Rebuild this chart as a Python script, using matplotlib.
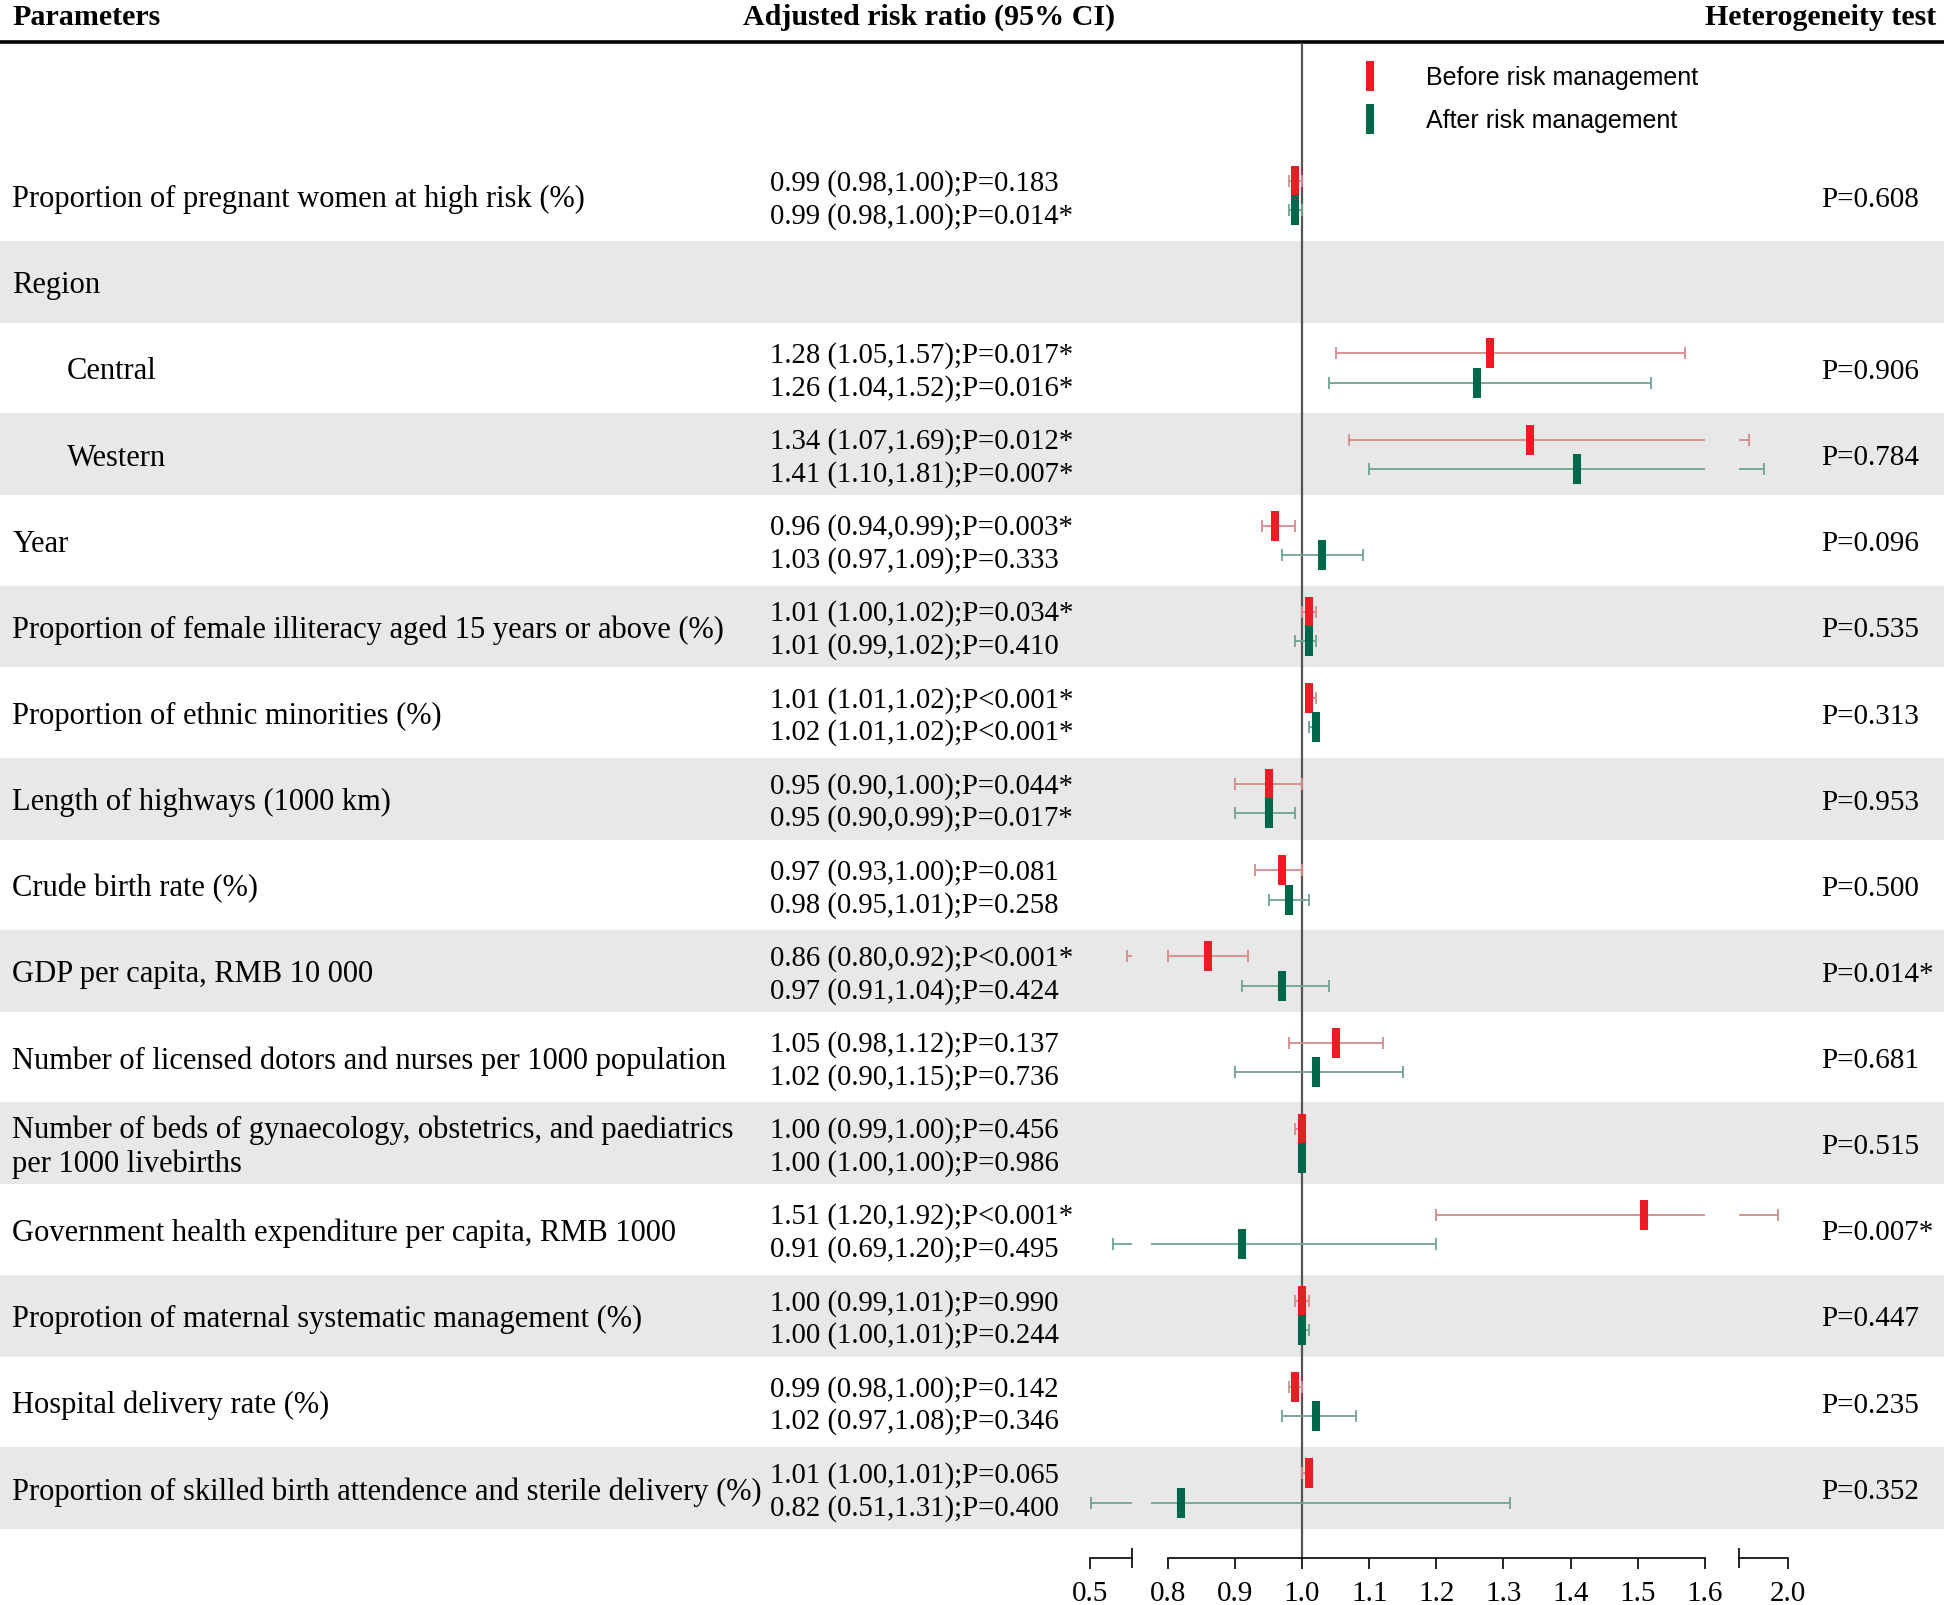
import matplotlib.pyplot as plt
import numpy as np
from matplotlib.lines import Line2D

# layout grid in reference pixels (figure is 1944x1605, grid 1568x1295)
W, H = 1568.0, 1295.0
Y0, STEP = 158.0, 69.5
AX_TOP, AX_BOT = 35.0, 1257.0
DY = 0.045  # small downward nudge for text baselines

def fy(px):
    return 1 - px / H

def row_of(px):
    return (px - Y0) / STEP

labels = ['Proportion of pregnant women at high risk (%)',
          'Region',
          'Central',
          'Western',
          'Year',
          'Proportion of female illiteracy aged 15 years or above (%)',
          'Proportion of ethnic minorities (%)',
          'Length of highways (1000 km)',
          'Crude birth rate (%)',
          'GDP per capita, RMB 10 000',
          'Number of licensed dotors and nurses per 1000 population',
          'Number of beds of gynaecology, obstetrics, and paediatrics\nper 1000 livebirths',
          'Government health expenditure per capita, RMB 1000',
          'Proprotion of maternal systematic management (%)',
          'Hospital delivery rate (%)',
          'Proportion of skilled birth attendence and sterile delivery (%)']
indented = [False, False, True, True] + [False] * 12

before_rr = [0.99, np.nan, 1.28, 1.34, 0.96, 1.01, 1.01, 0.95, 0.97, 0.86, 1.05, 1.00, 1.51, 1.00, 0.99, 1.01]
before_lo = [0.98, np.nan, 1.05, 1.07, 0.94, 1.00, 1.01, 0.90, 0.93, 0.80, 0.98, 0.99, 1.20, 0.99, 0.98, 1.00]
before_hi = [1.00, np.nan, 1.57, 1.69, 0.99, 1.02, 1.02, 1.00, 1.00, 0.92, 1.12, 1.00, 1.92, 1.01, 1.00, 1.01]
before_p = ['P=0.183', '', 'P=0.017*', 'P=0.012*', 'P=0.003*', 'P=0.034*', 'P<0.001*', 'P=0.044*',
            'P=0.081', 'P<0.001*', 'P=0.137', 'P=0.456', 'P<0.001*', 'P=0.990', 'P=0.142', 'P=0.065']

after_rr = [0.99, np.nan, 1.26, 1.41, 1.03, 1.01, 1.02, 0.95, 0.98, 0.97, 1.02, 1.00, 0.91, 1.00, 1.02, 0.82]
after_lo = [0.98, np.nan, 1.04, 1.10, 0.97, 0.99, 1.01, 0.90, 0.95, 0.91, 0.90, 1.00, 0.69, 1.00, 0.97, 0.51]
after_hi = [1.00, np.nan, 1.52, 1.81, 1.09, 1.02, 1.02, 0.99, 1.01, 1.04, 1.15, 1.00, 1.20, 1.01, 1.08, 1.31]
after_p = ['P=0.014*', '', 'P=0.016*', 'P=0.007*', 'P=0.333', 'P=0.410', 'P<0.001*', 'P=0.017*',
           'P=0.258', 'P=0.424', 'P=0.736', 'P=0.986', 'P=0.495', 'P=0.244', 'P=0.346', 'P=0.400']

het_p = ['P=0.608', '', 'P=0.906', 'P=0.784', 'P=0.096', 'P=0.535', 'P=0.313', 'P=0.953',
         'P=0.500', 'P=0.014*', 'P=0.681', 'P=0.515', 'P=0.007*', 'P=0.447', 'P=0.235', 'P=0.352']

RED, GREEN = '#EC1C24', '#00684A'
RED_CI, GREEN_CI = '#D68A8A', '#6FA590'
SERIF = 'Liberation Serif'
FS = 21

fig = plt.figure(figsize=(19.44, 16.05), dpi=100)

# background: bands, header and text columns
bg = fig.add_axes([0, 0, 1, 1], zorder=0)
bg.set_xlim(0, W)
bg.set_ylim(row_of(H), row_of(0))
bg.axis('off')

n = len(labels)
y = np.arange(n)
for k in range(1, n, 2):
    bg.axhspan(k - 0.475, k + 0.475, color='#E8E8E8', lw=0)
bg.axhline(row_of(34), color='black', lw=2.6)

hdr = dict(family=SERIF, fontsize=21.6, fontweight='bold', va='center')
bg.text(10, row_of(14), 'Parameters', **hdr)
bg.text(749, row_of(14), 'Adjusted risk ratio (95% CI)', ha='center', **hdr)
bg.text(1562, row_of(14), 'Heterogeneity test', ha='right', **hdr)

for i in range(n):
    x_lab = 54 if indented[i] else 10
    bg.text(x_lab, i + DY, labels[i], family=SERIF, fontsize=22, va='center', linespacing=1.2)
    if np.isnan(before_rr[i]):
        continue
    t1 = '%.2f (%.2f,%.2f);%s' % (before_rr[i], before_lo[i], before_hi[i], before_p[i])
    t2 = '%.2f (%.2f,%.2f);%s' % (after_rr[i], after_lo[i], after_hi[i], after_p[i])
    bg.text(621, i - 0.19 + DY, t1, family=SERIF, fontsize=FS - 0.3, va='center')
    bg.text(621, i + 0.19 + DY, t2, family=SERIF, fontsize=FS - 0.3, va='center')
    bg.text(1469, i + DY, het_p[i], family=SERIF, fontsize=FS, va='center')

# broken x axis: three panels with their own scales
panels = [(879, 913, (0.5, 0.84), [0.5], [0.84]),
          (928.5, 1375, (0.775, 1.6), [0.8, 0.9, 1.0, 1.1, 1.2, 1.3, 1.4, 1.5, 1.6], [0.8, 1.6]),
          (1403, 1442, (1.61, 2.0), [2.0], [1.61])]

b_rr, b_lo, b_hi = np.array(before_rr), np.array(before_lo), np.array(before_hi)
a_rr, a_lo, a_hi = np.array(after_rr), np.array(after_lo), np.array(after_hi)
ok = ~np.isnan(b_rr)
yb, ya = y[ok] - 0.17, y[ok] + 0.17

axes = []
for x0, x1, lim, major, ends in panels:
    ax = fig.add_axes([x0 / W, fy(AX_BOT), (x1 - x0) / W, (AX_BOT - AX_TOP) / H], zorder=2)
    ax.patch.set_visible(False)
    ax.set_xlim(*lim)
    ax.set_ylim(row_of(AX_BOT), row_of(AX_TOP))
    for s in ['top', 'left', 'right']:
        ax.spines[s].set_visible(False)
    ax.spines['bottom'].set_linewidth(1.2)
    ax.spines['bottom'].set_bounds(max(lim[0], major[0] if len(major) > 1 else lim[0]), lim[1])
    ax.set_yticks([])
    ax.set_xticks(major)
    ax.set_xticklabels(['%.1f' % v for v in major], family=SERIF, fontsize=FS)
    ax.set_xticks(ends, minor=True)
    ax.tick_params(axis='x', which='major', direction='out', length=8, width=1.2, pad=8.5)
    ax.tick_params(axis='x', which='minor', direction='inout', length=15, width=1.2)

    ax.errorbar(b_rr[ok], yb, xerr=[b_rr[ok] - b_lo[ok], b_hi[ok] - b_rr[ok]], fmt='none',
                ecolor=RED_CI, elinewidth=1.3, capsize=4.5, capthick=1.3)
    ax.errorbar(a_rr[ok], ya, xerr=[a_rr[ok] - a_lo[ok], a_hi[ok] - a_rr[ok]], fmt='none',
                ecolor=GREEN_CI, elinewidth=1.3, capsize=4.5, capthick=1.3)
    axes.append(ax)

ax2 = axes[1]
ax2.axvline(1.0, color='#555555', lw=1.6, zorder=1)
ax2.plot(b_rr[ok], yb, ls='none', marker='|', ms=22, mew=5.8, color=RED, zorder=4)
ax2.plot(a_rr[ok], ya, ls='none', marker='|', ms=22, mew=5.8, color=GREEN, zorder=4)

handles = [Line2D([], [], ls='none', marker='|', ms=22, mew=5.8, color=RED),
           Line2D([], [], ls='none', marker='|', ms=22, mew=5.8, color=GREEN)]
fig.legend(handles, ['Before risk management', 'After risk management'],
           loc='upper left', bbox_to_anchor=(1090 / W, fy(53)), frameon=False,
           prop={'family': 'Liberation Sans', 'size': 18}, handlelength=1.5,
           handletextpad=1.5, labelspacing=0.78, borderpad=0, borderaxespad=0)

fig.savefig('out.png', dpi=100)
